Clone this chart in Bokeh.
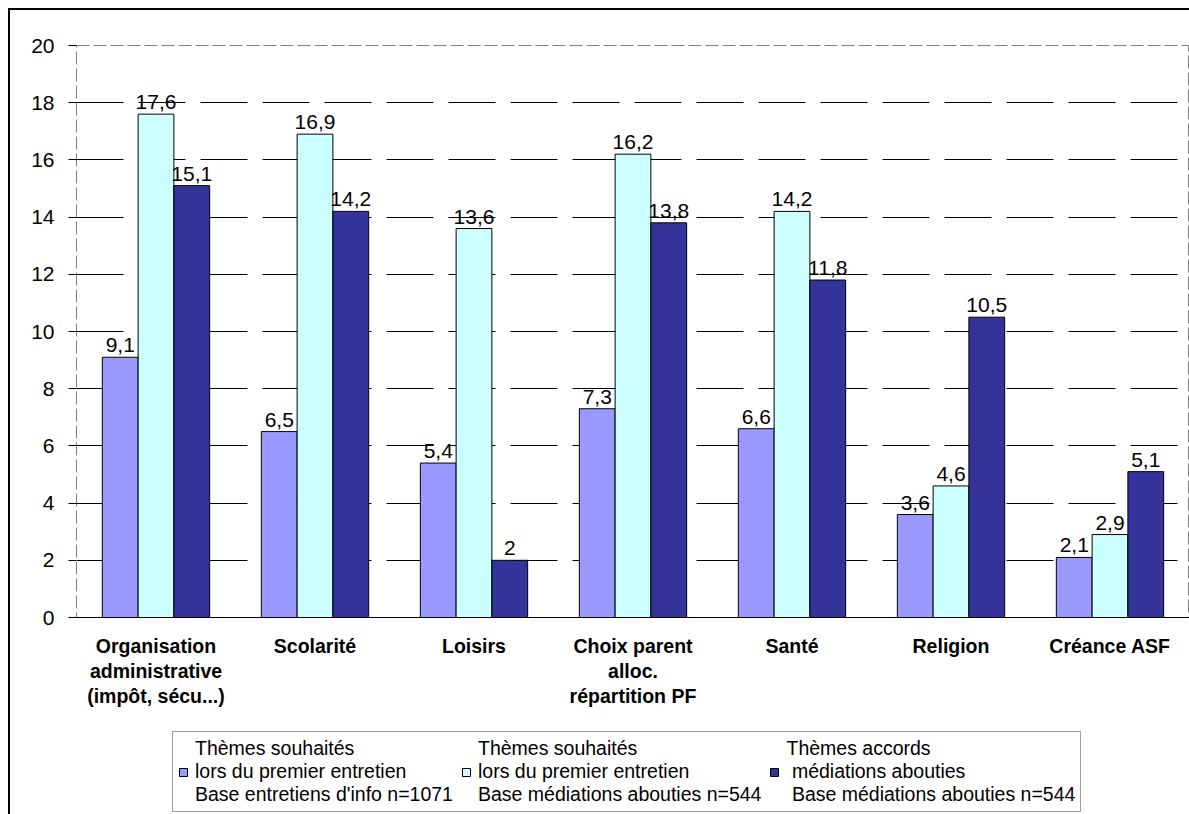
from bokeh.plotting import figure
from bokeh.layouts import column
from bokeh.models import (ColumnDataSource, FactorRange, Range1d, FixedTicker,
                          Legend, LegendItem)
from bokeh.transform import dodge
from bokeh.embed import file_html
from bokeh.resources import INLINE
from bokeh.core.properties import value

categories = ["Organisation\nadministrative\n(impôt, sécu...)", "Scolarité", "Loisirs",
              "Choix parent\nalloc.\nrépartition PF", "Santé", "Religion", "Créance ASF"]
souhaites_info = [9.1, 6.5, 5.4, 7.3, 6.6, 3.6, 2.1]
souhaites_med = [17.6, 16.9, 13.6, 16.2, 14.2, 4.6, 2.9]
accords_med = [15.1, 14.2, 2.0, 13.8, 11.8, 10.5, 5.1]
series_labels = ["Thèmes souhaités\nlors du premier entretien\nBase entretiens d'info n=1071",
                 "Thèmes souhaités\nlors du premier entretien\nBase médiations abouties n=544",
                 "Thèmes accords\n médiations abouties\n Base médiations abouties n=544"]
series_colors = ["#9999FF", "#CCFFFF", "#333399"]
y_ticks = [0, 2, 4, 6, 8, 10, 12, 14, 16, 18, 20]


def fmt(v):
    return ("%g" % v).replace(".", ",")


src = ColumnDataSource(dict(
    cat=categories,
    s1=souhaites_info, s2=souhaites_med, s3=accords_med,
    l1=[fmt(v) for v in souhaites_info],
    l2=[fmt(v) for v in souhaites_med],
    l3=[fmt(v) for v in accords_med],
))

p = figure(x_range=FactorRange(*categories), y_range=Range1d(0, 20),
           frame_width=1113, frame_height=572,
           output_backend="svg", toolbar_location=None,
           min_border_left=66, min_border_right=0, min_border_top=35, min_border_bottom=100)

p.background_fill_color = "white"
p.border_fill_color = "white"
p.outline_line_color = "#808080"
p.outline_line_dash = "13 4"
p.outline_line_width = 1

bw = 0.225
offsets = [-bw, 0.0, bw]
for i, (col, lab) in enumerate([("s1", "l1"), ("s2", "l2"), ("s3", "l3")]):
    p.vbar(x=dodge("cat", offsets[i], range=p.x_range), top=col, width=bw,
           source=src, fill_color=series_colors[i], line_color="black", line_width=1)
    p.text(x=dodge("cat", offsets[i], range=p.x_range), y=col, text=lab, source=src,
           text_align="center", text_baseline="alphabetic", y_offset=-12,
           text_font=value("Liberation Sans"), text_font_size="21px", text_color="black")

# grid
p.xgrid.grid_line_color = None
p.ygrid.ticker = FixedTicker(ticks=y_ticks[1:-1])
p.ygrid.grid_line_color = "black"
p.ygrid.grid_line_dash = "47 15"
p.ygrid.grid_line_width = 1

# y axis
p.yaxis.ticker = FixedTicker(ticks=y_ticks)
p.yaxis.axis_line_color = None
p.yaxis.major_tick_line_color = "black"
p.yaxis.major_tick_out = 8
p.yaxis.major_tick_in = 0
p.yaxis.minor_tick_line_color = None
p.yaxis.major_label_standoff = 14
p.yaxis.major_label_text_font = "Liberation Sans"
p.yaxis.major_label_text_font_size = "21px"
p.yaxis.major_label_text_color = "black"

# x axis
p.xaxis.axis_line_color = "black"
p.xaxis.major_tick_line_color = None
p.xaxis.minor_tick_line_color = None
p.xaxis.major_label_standoff = 11
p.xaxis.major_label_text_font = "Liberation Sans"
p.xaxis.major_label_text_font_style = "bold"
p.xaxis.major_label_text_font_size = "19.5px"
p.xaxis.major_label_text_color = "black"
p.xaxis.major_label_text_line_height = 1.15

# legend strip below the chart (same frame alignment as the chart)
lg = figure(width=1179, height=97, x_range=Range1d(0, 1), y_range=Range1d(0, 1),
            x_axis_location=None, y_axis_location=None,
            output_backend="svg", toolbar_location=None,
            min_border_left=66, min_border_right=0, min_border_top=0, min_border_bottom=0)
lg.outline_line_color = None
lg.grid.visible = False
lg.background_fill_color = "white"
lg.border_fill_color = "white"
legend_renderers = []
for c in series_colors:
    r = lg.vbar(x=[0.5], top=[0.5], width=0.1, fill_color=c, line_color="black", line_width=1)
    r.visible = False
    legend_renderers.append(r)

legend = Legend(items=[LegendItem(label=series_labels[i], renderers=[legend_renderers[i]])
                       for i in range(3)],
                orientation="horizontal", location=(96, 2))
legend.label_text_font = "Liberation Sans"
legend.label_text_font_size = "19.5px"
legend.label_text_color = "black"
legend.label_text_line_height = 1.25
legend.glyph_width = 10
legend.glyph_height = 10
legend.label_standoff = 7
legend.spacing = 8
legend.padding = 5
legend.margin = 0
legend.border_line_color = "#404040"
legend.border_line_width = 1
legend.background_fill_color = "white"
legend.background_fill_alpha = 1
lg.add_layout(legend, "center")

layout = column(p, lg, spacing=0,
                styles={"margin-left": "8px", "margin-top": "8px",
                        "border-top": "2px solid black", "border-left": "2px solid black"})

open("out.html", "w").write(file_html(layout, INLINE))
